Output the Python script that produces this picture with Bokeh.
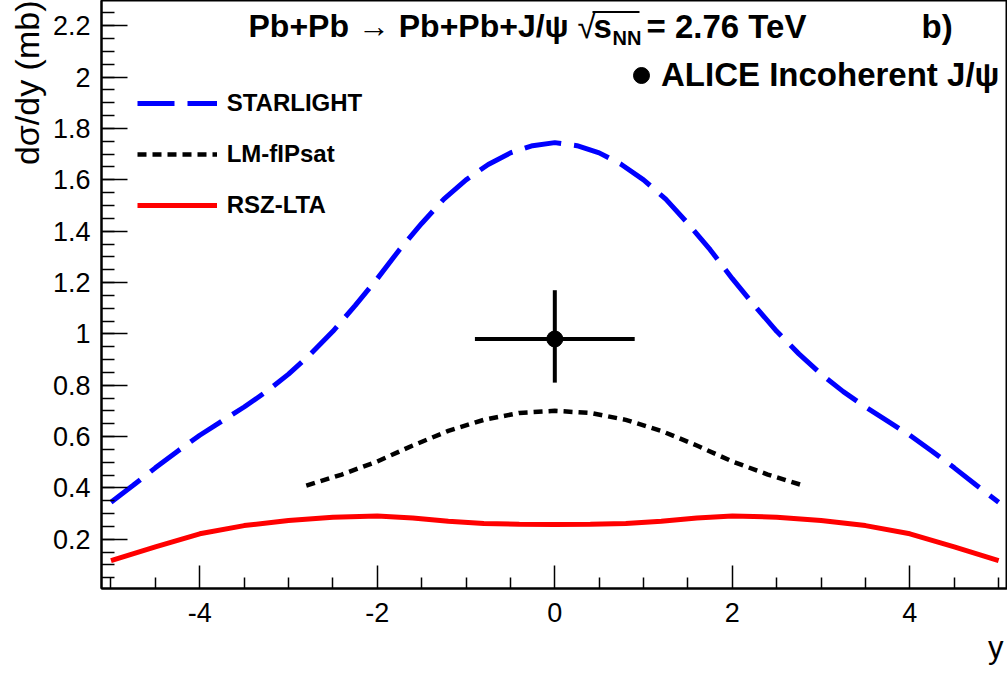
from bokeh.plotting import figure
from bokeh.models import (Range1d, FixedTicker, CustomJSTickFormatter, Label,
                          Legend, LegendItem, BoxAnnotation, Title)
from bokeh.embed import file_html
from bokeh.resources import INLINE

# ---------------- data ----------------
star_x = [-5.0, -4.75, -4.5, -4.25, -4.0, -3.75, -3.5, -3.25, -3.0, -2.75, -2.5,
          -2.25, -2.0, -1.75, -1.5, -1.25, -1.0, -0.75, -0.5, -0.25, 0.0,
          0.25, 0.5, 0.75, 1.0, 1.25, 1.5, 1.75, 2.0, 2.25, 2.5, 2.75, 3.0,
          3.25, 3.5, 3.75, 4.0, 4.25, 4.5, 4.75, 5.0]
star_y = [0.344, 0.410, 0.478, 0.543, 0.605, 0.660, 0.715, 0.775, 0.843, 0.922, 1.010,
          1.110, 1.215, 1.328, 1.430, 1.525, 1.600, 1.660, 1.705, 1.733, 1.745,
          1.733, 1.705, 1.660, 1.600, 1.525, 1.430, 1.328, 1.215, 1.110, 1.010, 0.922, 0.843,
          0.775, 0.715, 0.660, 0.605, 0.543, 0.478, 0.410, 0.344]

lm_x = [-2.8, -2.4, -2.0, -1.6, -1.2, -0.8, -0.4, 0.0, 0.4, 0.8, 1.2, 1.6, 2.0, 2.4, 2.8]
lm_y = [0.409, 0.452, 0.503, 0.565, 0.622, 0.665, 0.692, 0.700, 0.692, 0.665, 0.622,
        0.565, 0.503, 0.452, 0.409]

rsz_x = [-5.0, -4.5, -4.0, -3.5, -3.0, -2.5, -2.0, -1.6, -1.2, -0.8, -0.4, 0.0,
         0.4, 0.8, 1.2, 1.6, 2.0, 2.5, 3.0, 3.5, 4.0, 4.5, 5.0]
rsz_y = [0.117, 0.170, 0.221, 0.253, 0.273, 0.286, 0.290, 0.283, 0.270, 0.261, 0.258, 0.257,
         0.258, 0.261, 0.270, 0.283, 0.290, 0.286, 0.273, 0.253, 0.221, 0.170, 0.117]

alice_x = [0.0]
alice_y = [0.98]
alice_xerr = [0.9]
alice_yerr_up = [0.19]
alice_yerr_dn = [0.17]

x_ticks = [-4, -2, 0, 2, 4]
x_minor = [-5, -4.5, -3.5, -3, -2.5, -1.5, -1, -0.5, 0.5, 1, 1.5, 2.5, 3, 3.5, 4.5, 5]
y_ticks = [0.2, 0.4, 0.6, 0.8, 1, 1.2, 1.4, 1.6, 1.8, 2, 2.2]
y_minor = [round(0.05 * i, 2) for i in range(1, 46)]

series_labels = ["STARLIGHT", "LM-fIPsat", "RSZ-LTA"]
point_label = "ALICE Incoherent J/ψ"
x_title = "y"
y_title = "dσ/dy (mb)"

# ---------------- layout ----------------
X0, X1 = -5.107, 5.100
Y0, Y1 = 0.008, 2.2986
FW, FH = 906, 588
ML, MB = 101, 87
FONT = "Liberation Sans"


def dx(px):
    return X0 + (px - ML) * (X1 - X0) / FW


def dy(py):
    return Y0 + (FH - py) * (Y1 - Y0) / FH


p = figure(frame_width=FW, frame_height=FH, x_range=Range1d(X0, X1), y_range=Range1d(Y0, Y1),
           output_backend="svg", toolbar_location=None,
           min_border_left=ML, min_border_right=0, min_border_top=0, min_border_bottom=MB)
p.xgrid.visible = False
p.ygrid.visible = False
p.outline_line_color = "black"
p.outline_line_width = 2
p.background_fill_color = "white"
p.border_fill_color = "white"

p.xaxis.ticker = FixedTicker(ticks=x_ticks, minor_ticks=x_minor)
p.yaxis.ticker = FixedTicker(ticks=y_ticks, minor_ticks=y_minor)
fmt = CustomJSTickFormatter(code="return String(tick)")
p.xaxis.formatter = fmt
p.yaxis.formatter = fmt
for ax in (p.xaxis[0], p.yaxis[0]):
    ax.axis_line_width = 2
    ax.axis_line_color = "black"
    ax.major_tick_out = 0
    ax.minor_tick_out = 0
    ax.major_tick_line_width = 1.5
    ax.minor_tick_line_width = 1.5
    ax.major_tick_line_color = "black"
    ax.minor_tick_line_color = "black"
    ax.major_label_text_font = FONT
    ax.major_label_text_font_size = "27px"
    ax.major_label_text_color = "black"
p.yaxis.major_tick_in = 26
p.yaxis.minor_tick_in = 13
p.xaxis.major_tick_in = 23
p.xaxis.minor_tick_in = 11
p.yaxis.major_label_standoff = 11
p.xaxis.major_label_standoff = 14

# axis titles as side-panel titles (ROOT style: at the far end of the axis)
p.add_layout(Title(text=y_title, align="right", text_font=FONT, text_font_style="normal",
                   text_font_size="34px", text_color="black", standoff=8), "left")
p.add_layout(Title(text=x_title, align="right", text_font=FONT, text_font_style="normal",
                   text_font_size="31px", text_color="black", standoff=7, offset=4), "below")

# ---------------- curves ----------------
r_star = p.line(star_x, star_y, line_color="#0000ff", line_width=5, line_dash="37 13")
r_lm = p.line(lm_x, lm_y, line_color="black", line_width=4.5, line_dash="9 6")
r_rsz = p.line(rsz_x, rsz_y, line_color="#ff0000", line_width=5)

# data point with errors
p.segment(x0=[a - e for a, e in zip(alice_x, alice_xerr)], y0=alice_y,
          x1=[a + e for a, e in zip(alice_x, alice_xerr)], y1=alice_y,
          line_color="black", line_width=4)
p.segment(x0=alice_x, y0=[a - e for a, e in zip(alice_y, alice_yerr_dn)],
          x1=alice_x, y1=[a + e for a, e in zip(alice_y, alice_yerr_up)],
          line_color="black", line_width=4)
r_pt = p.scatter(alice_x, alice_y, size=16, color="black")

# ---------------- legends ----------------
leg1 = Legend(items=[LegendItem(label=series_labels[0], renderers=[r_star]),
                     LegendItem(label=series_labels[1], renderers=[r_lm]),
                     LegendItem(label=series_labels[2], renderers=[r_rsz])],
              location=(35.7, 367.7), orientation="vertical",
              glyph_width=80, glyph_height=30, label_height=30, spacing=21,
              padding=0, margin=0, label_standoff=10,
              label_text_font=FONT, label_text_font_style="bold",
              label_text_font_size="24px", label_text_color="black",
              border_line_alpha=0, background_fill_alpha=0)
p.add_layout(leg1)

leg2 = Legend(items=[LegendItem(label=point_label, renderers=[r_pt])],
              location=(520, 493), orientation="vertical",
              glyph_width=40, glyph_height=40, label_height=40, spacing=0,
              padding=0, margin=0, label_standoff=0,
              label_text_font=FONT, label_text_font_style="bold",
              label_text_font_size="33px", label_text_color="black",
              border_line_alpha=0, background_fill_alpha=0)
p.add_layout(leg2)


# ---------------- header texts ----------------
def lab(px, py, text, size, style="bold", align="left", baseline="middle"):
    p.add_layout(Label(x=dx(px), y=dy(py), text=text, text_font=FONT,
                       text_font_style=style, text_font_size=size, text_color="black",
                       text_align=align, text_baseline=baseline))


lab(248, 25.5, "Pb+Pb → Pb+Pb+J/ψ", "32px")
lab(577, 25.5, "√", "33px", style="normal")
lab(593, 25.5, "s", "33px")
lab(612, 37, "NN", "20px")
p.add_layout(BoxAnnotation(left=dx(592), right=dx(639), top=dy(10.5), bottom=dy(12.5),
                           fill_color="black", fill_alpha=1, line_alpha=0))
lab(646, 25.5, "= 2.76 TeV", "33px")
lab(921, 25.5, "b)", "33px")

open("out.html", "w").write(file_html(p, INLINE))
